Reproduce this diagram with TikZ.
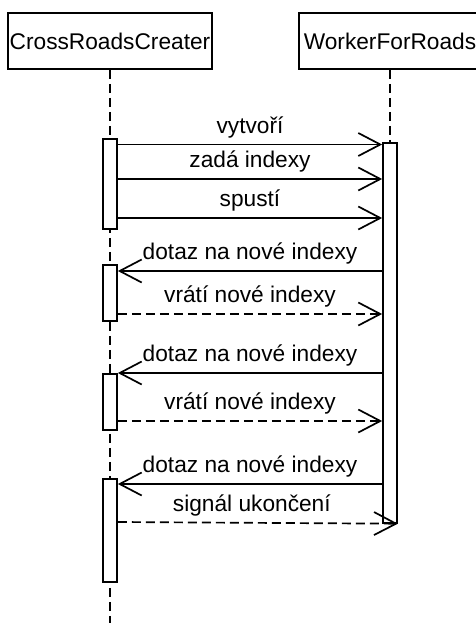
\documentclass[tikz,border=0pt]{standalone}
\usepackage{fontspec}
\setmainfont{Liberation Sans}
\usetikzlibrary{arrows.meta}

\begin{document}
\begin{tikzpicture}[x=1pt, y=-1pt, line width=1.7pt,
  every node/.style={font=\fontsize{22.7}{27}\selectfont},
  head/.style={draw, fill=white, inner sep=0pt, minimum height=56pt},
  life/.style={dash pattern=on 9pt off 5pt},
  act/.style={draw, fill=white, inner sep=0pt, minimum width=14pt, anchor=north},
  tip/.style={-{Straight Barb[length=22pt, width=23pt]}},
  msg/.style={tip},
  reply/.style={tip, dash pattern=on 9pt off 5pt},
  lbl/.style={midway, anchor=base, yshift=11.5pt, inner sep=0pt}
]
\useasboundingbox (0,0) rectangle (475,623);

% object heads
\node[head, minimum width=204pt] (crc) at (110,41) {CrossRoadsCreater};
\node[head, minimum width=182pt] (wfr) at (390,41) {WorkerForRoads};

% lifelines
\coordinate (crcEnd) at (110,623);
\draw[life] (crc.south) -- (crcEnd);

% activation bars
\node[act, minimum height=380pt] (b1) at (390,142) {};
\draw[life] (wfr.south) -- (b1.north);
\node[act, minimum height=90pt]  (a1) at (110,138) {};
\node[act, minimum height=56pt]  (a2) at (110,264) {};
\node[act, minimum height=56pt]  (a3) at (110,373) {};
\node[act, minimum height=103pt] (a4) at (110,478) {};

% messages
\draw[msg] (a1.east |- 0,144.5) -- node[lbl] {vytvoří} (b1.west |- 0,144.5);
\draw[msg] (a1.east |- 0,179) -- node[lbl] {zadá indexy} (b1.west |- 0,179);
\draw[msg] (a1.east |- 0,218) -- node[lbl] {spustí} (b1.west |- 0,218);

\draw[msg] (b1.west |- 0,271) -- node[lbl] {dotaz na nové indexy} (a2.east |- 0,271);
\draw[reply] (a2.east |- 0,314) -- node[lbl] {vrátí nové indexy} (b1.west |- 0,314);

\draw[msg] (b1.west |- 0,373) -- node[lbl] {dotaz na nové indexy} (a3.east |- 0,373);
\draw[reply] (a3.east |- 0,421) -- node[lbl] {vrátí nové indexy} (b1.west |- 0,421);

\draw[msg] (b1.west |- 0,484) -- node[lbl] {dotaz na nové indexy} (a4.east |- 0,484);
\draw[reply] (a4.east |- 0,522) -- node[lbl, xshift=-6pt] {signál ukončení} (b1.south east);
\end{tikzpicture}
\end{document}
